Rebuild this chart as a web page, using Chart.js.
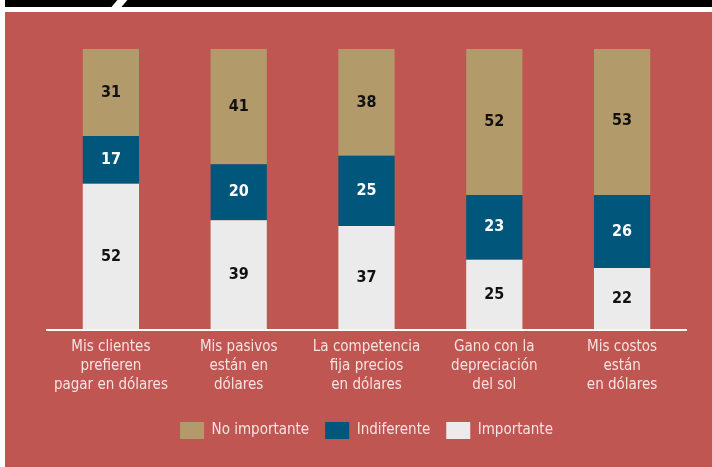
<!DOCTYPE html>
<html>
<head>
<meta charset="utf-8">
<script src="https://cdn.jsdelivr.net/npm/chart.js@4.4.1/dist/chart.umd.min.js"></script>
<style>
  body { margin: 0; background: #fff; width: 712px; height: 467px; overflow: hidden; position: relative; }
  #topbar { position: absolute; left: 5px; top: 0; width: 707px; height: 7px; background: #000; overflow: hidden; }
  #slash { position: absolute; left: 109px; top: -2px; width: 10px; height: 12px; background: #fff; transform: skewX(-40deg); }
  #panel { position: absolute; left: 5px; top: 12px; width: 707px; height: 455px; background: #bf5652; }
  #chart { display: block; }
</style>
</head>
<body>
<div id="topbar"><div id="slash"></div></div>
<div id="panel"><canvas id="chart" width="707" height="455"></canvas></div>
<script>
// data (percent)
const categories = [
  ['Mis clientes', 'prefieren', 'pagar en dólares'],
  ['Mis pasivos', 'están en', 'dólares'],
  ['La competencia', 'fija precios', 'en dólares'],
  ['Gano con la', 'depreciación', 'del sol'],
  ['Mis costos', 'están', 'en dólares']
];
const importante = [52, 39, 37, 25, 22];
const indiferente = [17, 20, 25, 23, 26];
const noImportante = [31, 41, 38, 52, 53];

const fontFam = '"Liberation Sans Narrow", "DejaVu Sans Condensed", "Roboto", sans-serif';
const lightText = '#f6e3e2';

// draws the numbers in the middle of each segment
const segmentLabels = {
  id: 'segmentLabels',
  afterDatasetsDraw(chart) {
    const ctx = chart.ctx;
    ctx.save();
    ctx.font = 'bold 16px ' + fontFam;
    ctx.textAlign = 'center';
    ctx.textBaseline = 'middle';
    chart.data.datasets.forEach((ds, i) => {
      const meta = chart.getDatasetMeta(i);
      meta.data.forEach((bar, j) => {
        const mid = (bar.y + bar.base) / 2;
        ctx.fillStyle = ds.labelColor;
        ctx.fillText(ds.data[j], bar.x, mid);
      });
    });
    ctx.restore();
  }
};

const data = {
  labels: categories,
  datasets: [
    { label: 'Importante', data: importante, backgroundColor: '#ebebeb', labelColor: '#111' },
    { label: 'Indiferente', data: indiferente, backgroundColor: '#00567b', labelColor: '#fff' },
    { label: 'No importante', data: noImportante, backgroundColor: '#b29a6b', labelColor: '#111' }
  ]
};

const config = {
  type: 'bar',
  data: data,
  options: {
    responsive: false,
    animation: false,
    layout: { padding: { left: 42, right: 26, top: 37, bottom: 18 } },
    datasets: { bar: { categoryPercentage: 1, barPercentage: 0.44 } },
    scales: {
      x: {
        stacked: true,
        grid: { display: false, drawTicks: false },
        border: { color: '#ffffff', width: 2 },
        ticks: { color: lightText, font: { family: fontFam, size: 15, lineHeight: 1.27 }, padding: 8, maxRotation: 0, autoSkip: false },
        afterFit: (scale) => { scale.height += 3; } // gap above the legend
      },
      y: {
        stacked: true,
        display: false,
        min: 0,
        max: 100
      }
    },
    plugins: {
      tooltip: { enabled: false },
      legend: {
        position: 'bottom',
        reverse: true,
        labels: {
          color: lightText,
          font: { family: fontFam, size: 15 },
          boxWidth: 24,
          boxHeight: 17,
          padding: 16
        }
      }
    }
  },
  plugins: [segmentLabels]
};

var ctx = document.getElementById('chart').getContext('2d');
const myChart = new Chart(ctx, config);
</script>
</body>
</html>
